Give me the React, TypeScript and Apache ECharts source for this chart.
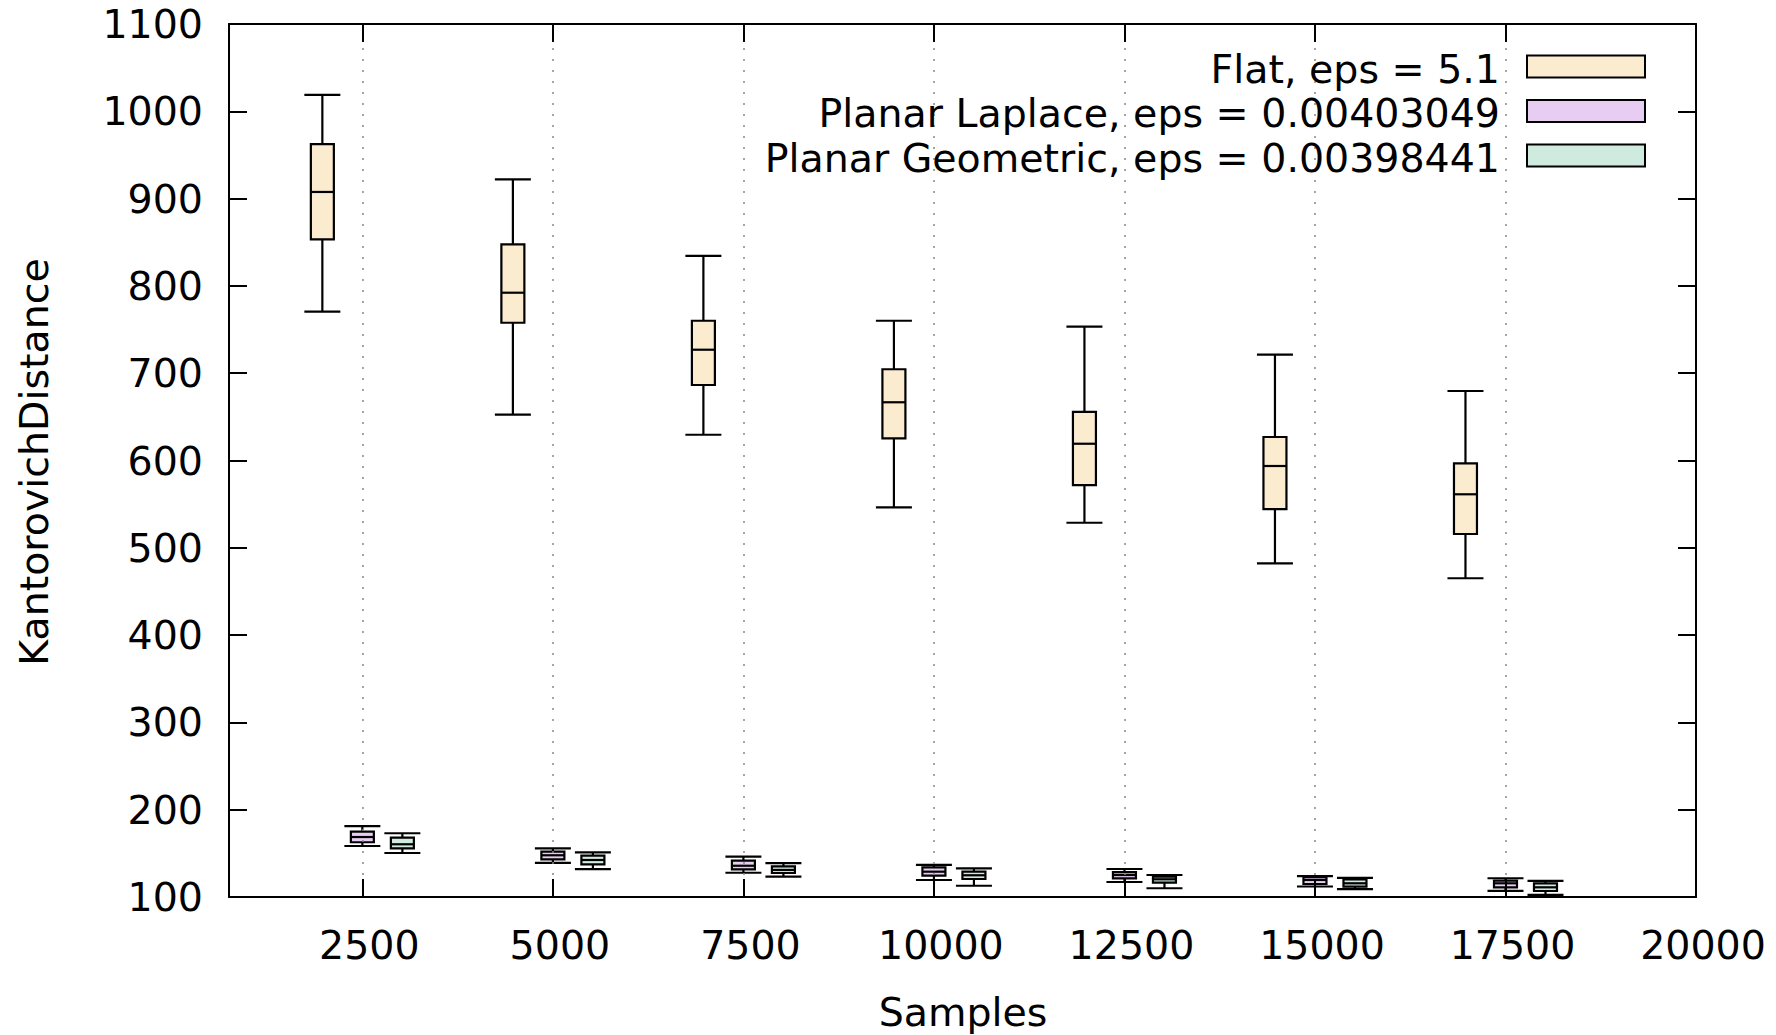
import React, { useEffect, useRef } from "react";
import * as echarts from "echarts";

const samples = [2500, 5000, 7500, 10000, 12500, 15000, 17500];
const xTickValues = [2500, 5000, 7500, 10000, 12500, 15000, 17500, 20000];
const gridLineValues = [2500, 5000, 7500, 10000, 12500, 15000, 17500];

// [min, q1, median, q3, max]
const flatStats = [
  [770.5, 853.4, 907.6, 962.5, 1018.7],
  [652.6, 757.8, 792.2, 847.6, 922.0],
  [629.5, 686.5, 726.9, 760.1, 834.3],
  [546.4, 625.4, 666.7, 704.5, 760.1],
  [528.7, 571.9, 619.2, 655.6, 753.3],
  [482.2, 544.4, 593.7, 626.9, 721.2],
  [465.1, 515.8, 561.3, 596.8, 679.6],
];
const laplaceStats = [
  [158.4, 162.7, 168.7, 174.8, 181.3],
  [139.0, 143.1, 147.8, 151.9, 155.7],
  [127.8, 131.7, 135.8, 141.6, 146.2],
  [119.5, 124.4, 129.0, 134.0, 136.7],
  [117.2, 121.4, 125.2, 128.6, 132.1],
  [112.0, 114.9, 119.5, 122.6, 124.0],
  [107.0, 111.1, 115.7, 118.7, 121.5],
];
const geometricStats = [
  [150.4, 155.8, 160.4, 168.0, 173.0],
  [132.0, 137.4, 142.4, 147.3, 151.1],
  [123.3, 127.5, 131.0, 135.0, 138.8],
  [112.9, 120.6, 124.9, 129.0, 132.9],
  [110.0, 116.4, 120.3, 123.3, 125.2],
  [109.0, 111.8, 115.7, 120.3, 122.0],
  [102.4, 106.9, 111.1, 115.7, 118.4],
];

const seriesNames = [
  "Flat, eps = 5.1",
  "Planar Laplace, eps = 0.00403049",
  "Planar Geometric, eps = 0.00398441",
];
const seriesColors = ["#fbebcf", "#e8cdf3", "#cfeadf"];
const seriesOffsets = [-525, 0, 525];
const allStats = [flatStats, laplaceStats, geometricStats];

const FONT = "DejaVu Sans";
const FS = 39.5;
const BOX_W = 23;
const CAP_W = 36;

export default function App() {
  const ref = useRef<HTMLDivElement>(null);

  useEffect(() => {
    if (!ref.current) return;
    const chart = echarts.init(ref.current, null, { renderer: "svg" });

    const makeSeries = (idx: number) => ({
      type: "custom",
      name: seriesNames[idx],
      z: 3,
      data: samples.map((s, i) => [s, ...allStats[idx][i]]),
      encode: { x: 0, y: [1, 2, 3, 4, 5] },
      renderItem: (params: any, api: any) => {
        const x = api.value(0) + seriesOffsets[idx];
        const pMin = api.coord([x, api.value(1)]);
        const pQ1 = api.coord([x, api.value(2)]);
        const pMed = api.coord([x, api.value(3)]);
        const pQ3 = api.coord([x, api.value(4)]);
        const pMax = api.coord([x, api.value(5)]);
        const cx = pMin[0];
        const ls = { stroke: "#000", lineWidth: 2.2 };
        return {
          type: "group",
          children: [
            { type: "line", shape: { x1: cx, y1: pMax[1], x2: cx, y2: pQ3[1] }, style: ls },
            { type: "line", shape: { x1: cx, y1: pQ1[1], x2: cx, y2: pMin[1] }, style: ls },
            { type: "line", shape: { x1: cx - CAP_W / 2, y1: pMax[1], x2: cx + CAP_W / 2, y2: pMax[1] }, style: ls },
            { type: "line", shape: { x1: cx - CAP_W / 2, y1: pMin[1], x2: cx + CAP_W / 2, y2: pMin[1] }, style: ls },
            {
              type: "rect",
              shape: { x: cx - BOX_W / 2, y: pQ3[1], width: BOX_W, height: pQ1[1] - pQ3[1] },
              style: { fill: seriesColors[idx], stroke: "#000", lineWidth: 2.2 },
            },
            { type: "line", shape: { x1: cx - BOX_W / 2, y1: pMed[1], x2: cx + BOX_W / 2, y2: pMed[1] }, style: ls },
          ],
        };
      },
      markLine:
        idx === 0
          ? {
              silent: true,
              symbol: ["none", "none"],
              label: { show: false },
              lineStyle: { color: "#888", type: [2, 9], width: 1.5 },
              data: gridLineValues.map((v) => ({ xAxis: v })),
            }
          : undefined,
    });

    const legendChildren: any[] = [
      {
        type: "rect",
        shape: { x: 735, y: 26, width: 959, height: 154 },
        style: { fill: "#fff" },
        z: 5,
      },
    ];
    seriesNames.forEach((name, i) => {
      const cy = 68.5 + 44.5 * i;
      legendChildren.push({
        type: "text",
        x: 1500,
        y: cy,
        z: 6,
        style: { text: name, fontSize: FS, fontFamily: FONT, fill: "#000", align: "right", verticalAlign: "middle" },
      });
      legendChildren.push({
        type: "rect",
        z: 6,
        shape: { x: 1527, y: cy - 13, width: 118, height: 22 },
        style: { fill: seriesColors[i], stroke: "#000", lineWidth: 2 },
      });
    });

    const axisLine = { show: true, lineStyle: { color: "#000", width: 2 } };
    const tick = { show: true, inside: true, length: 18, lineStyle: { color: "#000", width: 2 } };
    const plain = (v: number) => String(v);

    chart.setOption({
      animation: false,
      grid: { left: 229, right: 80, top: 24, bottom: 138, containLabel: false },
      xAxis: [
        {
          type: "value",
          position: "bottom",
          min: 750,
          max: 20000,
          z: 10,
          axisLine,
          axisTick: { ...tick, customValues: xTickValues },
          axisLabel: {
            customValues: xTickValues,
            formatter: plain,
            fontSize: FS,
            fontFamily: FONT,
            color: "#000",
            margin: 28,
            padding: [0, 0, 0, 14],
          },
          splitLine: { show: false },
        },
        {
          type: "value",
          position: "top",
          min: 750,
          max: 20000,
          z: 10,
          axisLine,
          axisTick: { ...tick, customValues: xTickValues },
          axisLabel: { show: false, customValues: xTickValues },
          splitLine: { show: false },
        },
      ],
      yAxis: [
        {
          type: "value",
          position: "left",
          min: 100,
          max: 1100,
          interval: 100,
          z: 10,
          axisLine,
          axisTick: tick,
          axisLabel: { formatter: plain, fontSize: FS, fontFamily: FONT, color: "#000", margin: 26 },
          splitLine: { show: false },
        },
        {
          type: "value",
          position: "right",
          min: 100,
          max: 1100,
          interval: 100,
          z: 10,
          axisLine,
          axisTick: tick,
          axisLabel: { show: false },
          splitLine: { show: false },
        },
      ],
      graphic: [
        ...legendChildren,
        {
          type: "text",
          x: 34,
          y: 462,
          rotation: Math.PI / 2,
          style: { text: "KantorovichDistance", fontSize: FS, fontFamily: FONT, fill: "#000", align: "center", verticalAlign: "middle" },
        },
        {
          type: "text",
          x: 963,
          y: 1012,
          style: { text: "Samples", fontSize: FS, fontFamily: FONT, fill: "#000", align: "center", verticalAlign: "middle" },
        },
      ],
      series: [makeSeries(0), makeSeries(1), makeSeries(2)],
    });

    return () => chart.dispose();
  }, []);

  return (
    <div
      ref={ref}
      style={{ position: "fixed", left: 0, top: 0, width: 1776, height: 1035, background: "#fff" }}
    />
  );
}
